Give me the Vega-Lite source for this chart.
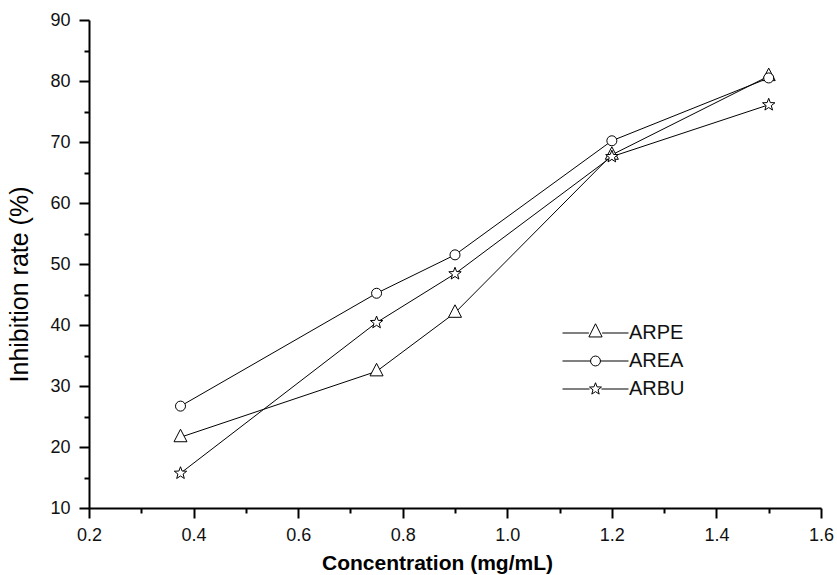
{
  "$schema": "https://vega.github.io/schema/vega-lite/v6.json",
  "width": 732,
  "height": 488,
  "autosize": {"type": "none"},
  "padding": {"left": 89, "top": 20, "right": 16, "bottom": 67},
  "background": "white",
  "config": {
    "view": {"stroke": null},
    "font": "Liberation Sans",
    "axis": {
      "domainColor": "black",
      "domainWidth": 2,
      "tickColor": "black",
      "tickWidth": 2,
      "labelColor": "#111",
      "labelFont": "Liberation Sans",
      "labelFontSize": 18,
      "titleColor": "black",
      "titleFont": "Liberation Sans",
      "grid": false
    }
  },
  "data": {
    "values": [
      {"c": 0.375, "v": 21.6, "s": "ARPE"},
      {"c": 0.75, "v": 32.4, "s": "ARPE"},
      {"c": 0.9, "v": 42.0, "s": "ARPE"},
      {"c": 1.2, "v": 67.9, "s": "ARPE"},
      {"c": 1.5, "v": 80.8, "s": "ARPE"},
      {"c": 0.375, "v": 26.7, "s": "AREA"},
      {"c": 0.75, "v": 45.2, "s": "AREA"},
      {"c": 0.9, "v": 51.5, "s": "AREA"},
      {"c": 1.2, "v": 70.2, "s": "AREA"},
      {"c": 1.5, "v": 80.5, "s": "AREA"},
      {"c": 0.375, "v": 15.7, "s": "ARBU"},
      {"c": 0.75, "v": 40.4, "s": "ARBU"},
      {"c": 0.9, "v": 48.4, "s": "ARBU"},
      {"c": 1.2, "v": 67.6, "s": "ARBU"},
      {"c": 1.5, "v": 76.1, "s": "ARBU"}
    ]
  },
  "encoding": {
    "x": {
      "field": "c",
      "type": "quantitative",
      "scale": {"domain": [0.2, 1.6], "nice": false, "zero": false},
      "axis": {
        "title": "Concentration (mg/mL)",
        "titleFontSize": 21,
        "titleFontWeight": "bold",
        "titlePadding": 8,
        "titleX": 348,
        "values": [0.2, 0.3, 0.4, 0.5, 0.6, 0.7, 0.8, 0.9, 1.0, 1.1, 1.2, 1.3, 1.4, 1.5, 1.6],
        "labelExpr": "round(datum.value*10) % 2 == 0 ? format(datum.value, '.1f') : ''",
        "tickSize": {"condition": {"test": "round(datum.value*10) % 2 == 0", "value": 10}, "value": 5},
        "labelPadding": 8,
        "labelFlush": false,
        "labelOverlap": false
      }
    },
    "y": {
      "field": "v",
      "type": "quantitative",
      "scale": {"domain": [10, 90], "nice": false, "zero": false},
      "axis": {
        "title": "Inhibition rate (%)",
        "titleFontSize": 25,
        "titleFontWeight": "normal",
        "titlePadding": 17,
        "titleY": 264,
        "values": [10, 15, 20, 25, 30, 35, 40, 45, 50, 55, 60, 65, 70, 75, 80, 85, 90],
        "labelExpr": "datum.value % 10 == 0 ? format(datum.value, 'd') : ''",
        "tickSize": {"condition": {"test": "datum.value % 10 == 0", "value": 10}, "value": 5},
        "labelPadding": 9,
        "labelFlush": false,
        "labelOverlap": false
      }
    }
  },
  "layer": [
    {
      "mark": {"type": "line", "color": "black", "strokeWidth": 1},
      "encoding": {"detail": {"field": "s"}}
    },
    {
      "mark": {"type": "point", "filled": true, "fill": "white", "stroke": "black", "strokeWidth": 1, "size": 100, "opacity": 1},
      "encoding": {
        "shape": {
          "field": "s",
          "type": "nominal",
          "scale": {
            "domain": ["ARPE", "AREA", "ARBU"],
            "range": [
              "M-1.3,0.9L0,-1.6L1.3,0.9Z",
              "circle",
              "M0,-1.3L0.321,-0.442L1.236,-0.402L0.519,0.169L0.764,1.052L0,0.546L-0.764,1.052L-0.519,0.169L-1.236,-0.402L-0.321,-0.442Z"
            ]
          },
          "legend": null
        }
      }
    },
    {
      "transform": [{"filter": "false"}],
      "mark": {"type": "point", "filled": false, "color": "black", "strokeWidth": 1, "opacity": 1},
      "encoding": {
        "shape": {
          "field": "s",
          "type": "nominal",
          "scale": {
            "domain": ["ARPE", "AREA", "ARBU"],
            "range": [
              "M-1,0H-0.2M0.2,0H1M-0.2,0.12L0,-0.28L0.2,0.12Z",
              "M-1,0H-0.15M0.15,0H1M0.15,0A0.15,0.15 0 1,1 -0.15,0A0.15,0.15 0 1,1 0.15,0Z",
              "M-1,0H-0.18M0.18,0H1M0,-0.19L0.047,-0.065L0.181,-0.059L0.076,0.025L0.112,0.154L0,0.08L-0.112,0.154L-0.076,0.025L-0.181,-0.059L-0.047,-0.065Z"
            ]
          },
          "legend": {
            "title": null,
            "orient": "none",
            "legendX": 473,
            "legendY": 303,
            "symbolSize": 4356,
            "symbolOpacity": 1,
            "symbolStrokeColor": "black",
            "symbolStrokeWidth": 1,
            "clipHeight": 20,
            "labelFontSize": 20,
            "labelFont": "Liberation Sans",
            "labelColor": "#111",
            "labelOffset": 0,
            "rowPadding": 8
          }
        }
      }
    }
  ],
  "resolve": {"scale": {"shape": "independent"}}
}
